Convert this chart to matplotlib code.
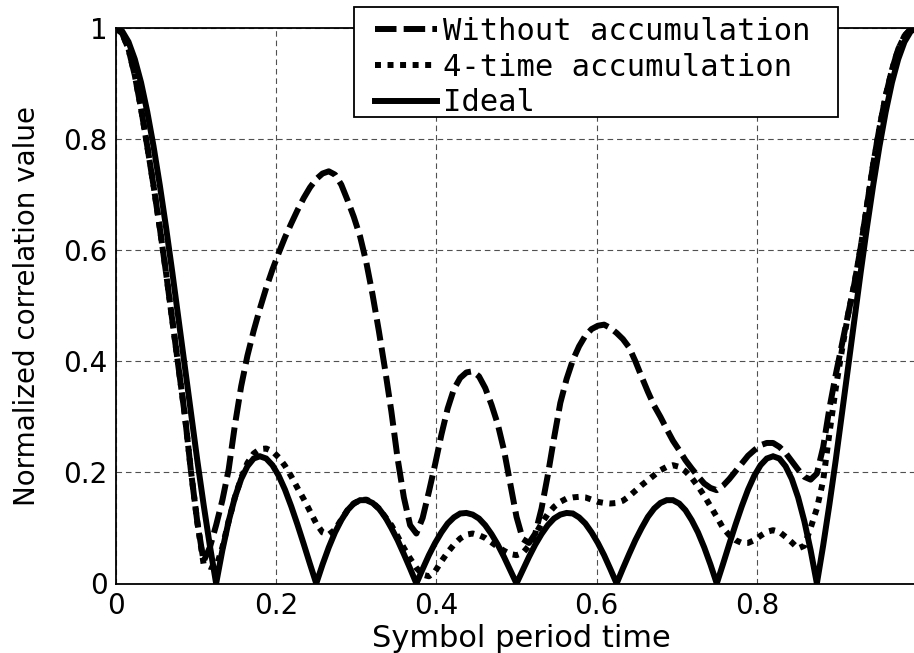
import numpy as np
import matplotlib
matplotlib.use("Agg")
import matplotlib.pyplot as plt
from matplotlib.patches import Rectangle

n_points = 129
symbol_time = np.linspace(0.0, 1.0, n_points)

without_accumulation = [
    1.000, 0.990, 0.962, 0.915, 0.855, 0.787, 0.716, 0.640,   # 0.000 - 0.055
    0.559, 0.474, 0.389, 0.303, 0.200, 0.110, 0.040, 0.065,   # 0.063 - 0.117
    0.105, 0.150, 0.205, 0.285, 0.355, 0.410, 0.455, 0.495,   # 0.125 - 0.180
    0.532, 0.565, 0.595, 0.623, 0.648, 0.672, 0.694, 0.713,   # 0.188 - 0.242
    0.728, 0.738, 0.742, 0.736, 0.718, 0.690, 0.660, 0.625,   # 0.250 - 0.305
    0.578, 0.520, 0.455, 0.385, 0.310, 0.225, 0.155, 0.105,   # 0.313 - 0.367
    0.090, 0.118, 0.165, 0.215, 0.268, 0.315, 0.350, 0.370,   # 0.375 - 0.430
    0.380, 0.382, 0.373, 0.352, 0.322, 0.287, 0.240, 0.180,   # 0.438 - 0.492
    0.120, 0.080, 0.073, 0.090, 0.135, 0.195, 0.262, 0.325,   # 0.500 - 0.555
    0.368, 0.402, 0.427, 0.446, 0.458, 0.464, 0.466, 0.460,   # 0.563 - 0.617
    0.451, 0.440, 0.425, 0.400, 0.372, 0.345, 0.320, 0.300,   # 0.625 - 0.680
    0.278, 0.257, 0.240, 0.222, 0.207, 0.193, 0.180, 0.172,   # 0.688 - 0.742
    0.168, 0.176, 0.188, 0.202, 0.216, 0.230, 0.240, 0.249,   # 0.750 - 0.805
    0.253, 0.253, 0.246, 0.235, 0.220, 0.205, 0.192, 0.187,   # 0.813 - 0.867
    0.198, 0.245, 0.315, 0.375, 0.430, 0.485, 0.540, 0.605,   # 0.875 - 0.930
    0.680, 0.755, 0.820, 0.878, 0.925, 0.962, 0.986, 0.998,   # 0.938 - 0.992
    1.000,
]

four_time_accumulation = [
    1.000, 0.990, 0.962, 0.915, 0.855, 0.787, 0.716, 0.640,
    0.559, 0.474, 0.389, 0.303, 0.200, 0.110, 0.035, 0.030,
    0.030, 0.065, 0.112, 0.155, 0.190, 0.217, 0.234, 0.242,
    0.243, 0.238, 0.227, 0.212, 0.193, 0.172, 0.152, 0.130,
    0.108, 0.092, 0.088, 0.097, 0.115, 0.132, 0.144, 0.150,
    0.151, 0.146, 0.135, 0.120, 0.105, 0.085, 0.064, 0.045,
    0.028, 0.016, 0.013, 0.022, 0.040, 0.056, 0.070, 0.081,
    0.088, 0.090, 0.087, 0.082, 0.074, 0.066, 0.059, 0.053,
    0.051, 0.055, 0.068, 0.088, 0.108, 0.125, 0.138, 0.147,
    0.153, 0.155, 0.156, 0.155, 0.151, 0.147, 0.145, 0.144,
    0.145, 0.149, 0.157, 0.167, 0.177, 0.186, 0.195, 0.204,
    0.210, 0.213, 0.210, 0.202, 0.190, 0.175, 0.158, 0.139,
    0.120, 0.100, 0.087, 0.078, 0.073, 0.073, 0.078, 0.086,
    0.093, 0.096, 0.093, 0.084, 0.074, 0.063, 0.068, 0.100,
    0.135, 0.185, 0.270, 0.350, 0.420, 0.485, 0.540, 0.605,
    0.680, 0.755, 0.820, 0.878, 0.925, 0.962, 0.986, 0.998,
    1.000,
]

ideal = [
    1.000, 0.994, 0.975, 0.944, 0.902, 0.849, 0.787, 0.717,
    0.641, 0.560, 0.475, 0.390, 0.305, 0.221, 0.142, 0.068,
    0.000, 0.060, 0.112, 0.155, 0.188, 0.211, 0.225, 0.229,
    0.225, 0.213, 0.194, 0.169, 0.139, 0.106, 0.071, 0.035,
    0.000, 0.034, 0.065, 0.092, 0.114, 0.132, 0.144, 0.150,
    0.150, 0.145, 0.135, 0.120, 0.100, 0.078, 0.053, 0.027,
    0.000, 0.026, 0.051, 0.073, 0.092, 0.108, 0.119, 0.126,
    0.127, 0.124, 0.117, 0.105, 0.089, 0.070, 0.048, 0.024,
    0.000, 0.024, 0.048, 0.070, 0.089, 0.105, 0.117, 0.124,
    0.127, 0.126, 0.119, 0.108, 0.092, 0.073, 0.051, 0.026,
    0.000, 0.027, 0.053, 0.078, 0.100, 0.120, 0.135, 0.145,
    0.150, 0.150, 0.144, 0.132, 0.114, 0.092, 0.065, 0.034,
    0.000, 0.035, 0.071, 0.106, 0.139, 0.169, 0.194, 0.213,
    0.225, 0.229, 0.225, 0.211, 0.188, 0.155, 0.112, 0.060,
    0.000, 0.068, 0.142, 0.221, 0.305, 0.390, 0.475, 0.560,
    0.641, 0.717, 0.787, 0.849, 0.902, 0.944, 0.975, 0.994,
    1.000,
]

series_labels = ["Without accumulation", "4-time accumulation", "Ideal"]
x_ticks = [0, 0.2, 0.4, 0.6, 0.8]
x_tick_labels = ["0", "0.2", "0.4", "0.6", "0.8"]
y_ticks = [0, 0.2, 0.4, 0.6, 0.8, 1.0]
y_tick_labels = ["0", "0.2", "0.4", "0.6", "0.8", "1"]

# ---- figure ----
W, H = 914, 653
fig = plt.figure(figsize=(W / 100, H / 100), dpi=100)
ax_left, ax_right, ax_top, ax_bottom = 116, 917, 28, 583.5
ax = fig.add_axes([ax_left / W, (H - ax_bottom) / H,
                   (ax_right - ax_left) / W, (ax_bottom - ax_top) / H])

lw = 4.3
l1, = ax.plot(symbol_time, without_accumulation, color="black", lw=lw,
              linestyle=(0, (3.6, 1.2)), label=series_labels[0])
l2, = ax.plot(symbol_time, four_time_accumulation, color="black", lw=lw,
              linestyle=(0, (1.0, 1.1)), label=series_labels[1])
l3, = ax.plot(symbol_time, ideal, color="black", lw=lw, solid_joinstyle="miter",
              label=series_labels[2])

ax.set_xlim(0, 1)
ax.set_ylim(0, 1)
ax.set_xticks(x_ticks)
ax.set_xticklabels(x_tick_labels)
ax.set_yticks(y_ticks)
ax.set_yticklabels(y_tick_labels)
ax.tick_params(length=0, labelsize=20, pad=6)
for lab in ax.get_xticklabels() + ax.get_yticklabels():
    lab.set_family("DejaVu Sans")

ax.grid(True, color="#505050", lw=0.8, linestyle=(0, (5, 3.5)))
for side in ["left", "bottom", "top"]:
    ax.spines[side].set_linewidth(1.3)
    ax.spines[side].set_color("black")
ax.spines["right"].set_visible(False)

ax.set_xlabel("Symbol period time", fontsize=22, family="DejaVu Sans", labelpad=3)
ax.xaxis.label.set_x((521 - ax_left) / (ax_right - ax_left))
ax.set_ylabel("Normalized correlation value", fontsize=20, family="DejaVu Sans",
              labelpad=16)

# legend box (drawn as a white framed rectangle) and legend entries
frame = Rectangle((354 / W, 1 - 117 / H), (838 - 354) / W, (117 - 7) / H,
                  transform=fig.transFigure, facecolor="white",
                  edgecolor="black", lw=1.3, zorder=4)
fig.add_artist(frame)
leg = fig.legend(handles=[l1, l2, l3], labels=series_labels,
                 loc="upper left", bbox_to_anchor=(375 / W, 1 - 17 / H),
                 bbox_transform=fig.transFigure, borderaxespad=0, borderpad=0,
                 prop={"family": "DejaVu Sans Mono", "size": 22},
                 handlelength=2.03, handletextpad=0.2, labelspacing=0.22,
                 frameon=False)
leg.set_zorder(5)

fig.savefig("out.png", dpi=100)
